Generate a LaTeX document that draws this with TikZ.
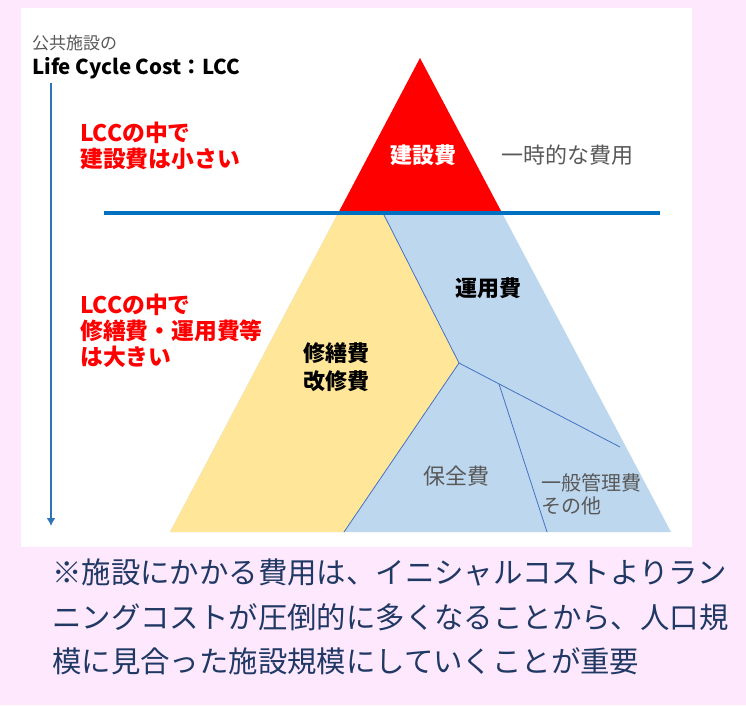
\documentclass[tikz,border=0pt]{standalone}
\usepackage{fontspec}
\setmainfont{Noto Sans CJK JP}
\usetikzlibrary{arrows.meta}
\definecolor{pagepink}{RGB}{253,232,253}
\definecolor{linkblue}{RGB}{0,112,192}
\definecolor{arrowblue}{RGB}{46,117,182}
\definecolor{costyellow}{RGB}{255,230,153}
\definecolor{costblue}{RGB}{189,215,238}
\definecolor{edgeblue}{RGB}{68,114,196}
\definecolor{notegray}{RGB}{89,89,89}
\definecolor{notenavy}{RGB}{32,56,100}
\tikzset{
  redtext/.style={text=red, font=\bfseries\fontsize{22.8}{26}\selectfont, align=left, anchor=west, inner sep=0pt},
  costname/.style={font=\bfseries\fontsize{22}{28}\selectfont, inner sep=0pt},
  graytext/.style={text=notegray, font=\fontsize{22}{23}\selectfont, inner sep=0pt},
  divider/.style={edgeblue, line width=0.8pt},
}
\begin{document}
\begin{tikzpicture}[x=1pt,y=-1pt]
    \fill[pagepink] (0,0) rectangle (746,705);
    \fill[white] (21,8) rectangle (692,547);
    \useasboundingbox (0,0) rectangle (746,705);

    % triangle points
    \coordinate (apex) at (420,58);
    \coordinate (baseL) at (170,532);
    \coordinate (baseR) at (671,532);
    \coordinate (cutL) at (338.2,213);
    \coordinate (cutR) at (502.1,213);
    \coordinate (split) at (383,213);
    \coordinate (hub) at (459,363);
    \coordinate (fork) at (499,384);
    \coordinate (yelBase) at (344,532);
    \coordinate (rightEnd) at (620,447);
    \coordinate (admBase) at (547,532);

    \fill[costblue] (cutL) -- (cutR) -- (baseR) -- (baseL) -- cycle;
    \fill[costyellow] (cutL) -- (split) -- (hub) -- (yelBase) -- (baseL) -- cycle;
    \fill[red] (apex) -- (cutR) -- (cutL) -- cycle;
    \draw[divider] (split) -- (hub) -- (yelBase);
    \draw[divider] (hub) -- (rightEnd);
    \draw[divider] (fork) -- (admBase);

    % border line and time arrow
    \coordinate (lineL) at (104,213);
    \coordinate (lineR) at (660,213);
    \draw[linkblue, line width=3.5pt] (lineL) -- (lineR);
    \coordinate (arrowTop) at (51,83);
    \coordinate (arrowEnd) at (51,526);
    \draw[arrowblue, line width=2.8pt, -{Latex[length=8pt,width=9pt]}] (arrowTop) -- (arrowEnd);

    \node[text=notegray, font=\fontsize{17}{20}\selectfont, inner sep=0pt, anchor=west] (facility) at (32,43) {公共施設の};
    \node[font=\bfseries\fontsize{20.5}{22}\selectfont, inner sep=0pt, anchor=west] (lcc) at (32,68) {Life Cycle Cost：LCC};
    \node[redtext] (small) at (80,146) {LCCの中で\\建設費は小さい};
    \node[redtext] (large) at (80,331) {LCCの中で\\修繕費・運用費等\\は大きい};

    \node[costname, text=white] (build) at (423,155) {建設費};
    \node[graytext, anchor=west] (temp) at (501,155) {一時的な費用};
    \node[costname] (ops) at (488,288) {運用費};
    \node[costname, align=left, anchor=west] (repair) at (303,367) {修繕費\\改修費};
    \node[graytext] (upkeep) at (456,476) {保全費};
    \node[graytext, font=\fontsize{20}{23}\selectfont, align=left, anchor=west] (admin) at (541,494) {一般管理費\\その他};

    \node[text=notenavy, font=\fontsize{29.4}{44.5}\selectfont, align=left, anchor=west, inner sep=0pt] (note) at (52,617)
        {※施設にかかる費用は、イニシャルコストよりラン\\ニングコストが圧倒的に多くなることから、人口規\\模に見合った施設規模にしていくことが重要};
\end{tikzpicture}
\end{document}
